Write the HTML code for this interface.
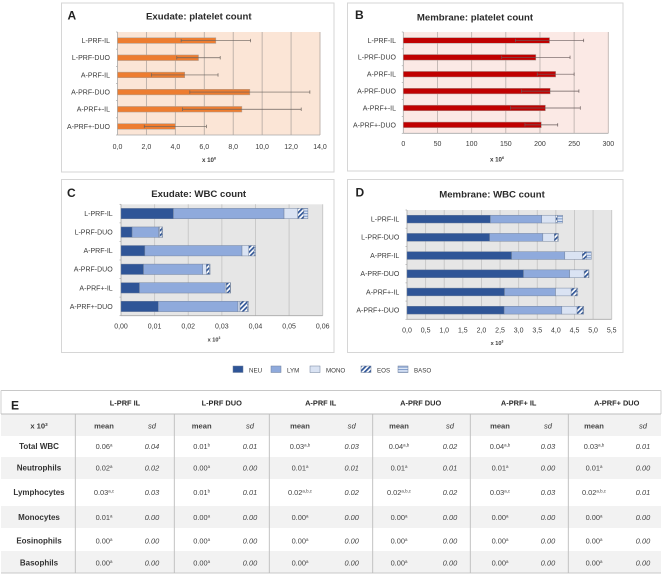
<!DOCTYPE html>
<html lang="en">
<head>
<meta charset="utf-8">
<title>Platelet and WBC counts</title>
<style>
html,body{margin:0;padding:0;background:#fff;}
#figure{display:block;width:669px;height:576px;filter:blur(0.35px);font-family:"Liberation Sans",sans-serif;}
</style>
</head>
<body>
<svg id="figure" xmlns="http://www.w3.org/2000/svg" width="669" height="576" viewBox="0 0 669 576">
<defs>
<pattern id="eos" patternUnits="userSpaceOnUse" width="3.4" height="3.4" patternTransform="rotate(45)"><rect width="3.4" height="3.4" fill="#fff"/><rect width="1.7" height="3.4" fill="#2f5597"/></pattern>
<pattern id="baso" patternUnits="userSpaceOnUse" width="2.6" height="2.6"><rect width="2.6" height="2.6" fill="#dbe5f5"/><rect width="2.6" height="0.9" fill="#6f8fc4"/></pattern>
</defs>
</svg>
<script>
// Shared categories
var categories = ['L-PRF-IL', 'L-PRF-DUO', 'A-PRF-IL', 'A-PRF-DUO', 'A-PRF+-IL', 'A-PRF+-DUO'];

// Panel A: exudate platelet count
var exudateTicks = ['0,0', '2,0', '4,0', '6,0', '8,0', '10,0', '12,0', '14,0'];
var exudateTickValues = [0, 2, 4, 6, 8, 10, 12, 14];
var exudateMean = [6.8, 5.6, 4.65, 9.15, 8.6, 4.0];
var exudateSd = [2.4, 1.5, 2.3, 4.15, 4.1, 2.15];

// Panel B: membrane platelet count
var membraneTicks = ['0', '50', '100', '150', '200', '250', '300'];
var membraneTickValues = [0, 50, 100, 150, 200, 250, 300];
var membraneMean = [214, 194, 223, 215, 208, 202];
var membraneSd = [50, 50, 27, 42, 51, 24];

// Panel C: exudate WBC count, stacked
var wbcSeries = ['NEU', 'LYM', 'MONO', 'EOS', 'BASO'];
var exuNeu = [0.0156, 0.0033, 0.0071, 0.0067, 0.0055, 0.0111];
var exuLym = [0.0329, 0.0079, 0.0289, 0.0176, 0.0255, 0.0237];
var exuMono = [0.0041, 0.0003, 0.0020, 0.0011, 0.0003, 0.0006];
var exuEos = [0.0018, 0.0007, 0.0016, 0.0009, 0.0012, 0.0022];
var exuBaso = [0.0012, 0.0002, 0.0004, 0.0002, 0.0001, 0.0003];
var exuTicks = ['0,00', '0,01', '0,02', '0,03', '0,04', '0,05', '0,06'];
var exuTickValues = [0, 0.01, 0.02, 0.03, 0.04, 0.05, 0.06];

// Panel D: membrane WBC count, stacked
var memNeu = [2.24, 2.22, 2.81, 3.13, 2.62, 2.61];
var memLym = [1.38, 1.43, 1.43, 1.24, 1.37, 1.55];
var memMono = [0.38, 0.31, 0.47, 0.39, 0.42, 0.41];
var memEos = [0.04, 0.09, 0.12, 0.12, 0.15, 0.16];
var memBaso = [0.14, 0.02, 0.12, 0.01, 0.03, 0.02];
var memTicks = ['0,0', '0,5', '1,0', '1,5', '2,0', '2,5', '3,0', '3,5', '4,0', '4,5', '5,0', '5,5'];
var memTickValues = [0, 0.5, 1, 1.5, 2, 2.5, 3, 3.5, 4, 4.5, 5, 5.5];

// Panel E: table
var tableGroups = ['L-PRF IL', 'L-PRF DUO', 'A-PRF IL', 'A-PRF DUO', 'A-PRF+ IL', 'A-PRF+ DUO'];
var tableRows = ['Total WBC', 'Neutrophils', 'Lymphocytes', 'Monocytes', 'Eosinophils', 'Basophils'];
var tableMeans = [
  ['0.06', '0.01', '0.03', '0.04', '0.04', '0.03'],
  ['0.02', '0.00', '0.01', '0.01', '0.01', '0.01'],
  ['0.03', '0.01', '0.02', '0.02', '0.03', '0.02'],
  ['0.01', '0.00', '0.00', '0.00', '0.00', '0.00'],
  ['0.00', '0.00', '0.00', '0.00', '0.00', '0.00'],
  ['0.00', '0.00', '0.00', '0.00', '0.00', '0.00']
];
var tableSups = [
  ['a', 'b', 'a,b', 'a,b', 'a,b', 'a,b'],
  ['a', 'a', 'a', 'a', 'a', 'a'],
  ['a,c', 'b', 'a,b,c', 'a,b,c', 'a,c', 'a,b,c'],
  ['a', 'a', 'a', 'a', 'a', 'a'],
  ['a', 'a', 'a', 'a', 'a', 'a'],
  ['a', 'a', 'a', 'a', 'a', 'a']
];
var tableSds = [
  ['0.04', '0.01', '0.03', '0.02', '0.03', '0.01'],
  ['0.02', '0.00', '0.01', '0.01', '0.00', '0.00'],
  ['0.03', '0.01', '0.02', '0.02', '0.03', '0.01'],
  ['0.00', '0.00', '0.00', '0.00', '0.00', '0.00'],
  ['0.00', '0.00', '0.00', '0.00', '0.00', '0.00'],
  ['0.00', '0.00', '0.00', '0.00', '0.00', '0.00']
];

var svg = document.getElementById('figure');
var NS = 'http://www.w3.org/2000/svg';

function rect(name, x, y, w, h, fill, stroke, sw) {
  var el = document.createElementNS(NS, 'rect');
  
  
  el.setAttribute('x', x);
  el.setAttribute('y', y);
  el.setAttribute('width', Math.max(w, 0));
  el.setAttribute('height', h);
  el.setAttribute('fill', fill);
  if (stroke) {
    el.setAttribute('stroke', stroke);
    el.setAttribute('stroke-width', sw || 1);
  }
  svg.appendChild(el);
  return el;
}

function line(name, x1, y1, x2, y2, stroke, sw) {
  var el = document.createElementNS(NS, 'line');
  
  
  el.setAttribute('x1', x1);
  el.setAttribute('y1', y1);
  el.setAttribute('x2', x2);
  el.setAttribute('y2', y2);
  el.setAttribute('stroke', stroke);
  el.setAttribute('stroke-width', sw || 1);
  svg.appendChild(el);
  return el;
}

function text(name, str, x, y, size, opts) {
  opts = opts || {};
  var el = document.createElementNS(NS, 'text');
  
  
  el.setAttribute('x', x);
  el.setAttribute('y', y);
  el.setAttribute('font-size', size);
  el.setAttribute('fill', opts.fill || '#3a3a3a');
  el.setAttribute('text-anchor', opts.anchor || 'middle');
  if (opts.bold) { el.setAttribute('font-weight', 'bold'); }
  if (opts.italic) { el.setAttribute('font-style', 'italic'); }
  el.textContent = str;
  if (opts.sup) {
    var sp = document.createElementNS(NS, 'tspan');
    sp.setAttribute('dy', -2.6);
    sp.setAttribute('font-size', size * 0.6);
    sp.textContent = opts.sup;
    el.appendChild(sp);
  }
  svg.appendChild(el);
  return el;
}

function makeScale(d0, d1, r0, r1) {
  return function (v) { return r0 + (v - d0) / (d1 - d0) * (r1 - r0); };
}

function frame(name, x0, y0, x1, y1) {
  rect(name, x0, y0, x1 - x0, y1 - y0, '#ffffff', '#d6d6d6', 1);
}

function axes(p, scale, ticks, tickValues, slug) {
  rect(slug + '-plot-area', p.x0, p.y0, p.x1 - p.x0, p.y1 - p.y0, p.bg);
  tickValues.forEach(function (v, i) {
    var x = scale(v);
    if (i > 0) { line(slug + '-gridline', x, p.y0, x, p.y1, p.grid, 0.9); }
    text(slug + '-x-tick-label', ticks[i], x, p.tickY, 7);
  });
  line(slug + '-y-axis', p.x0, p.y0, p.x0, p.y1, '#a8a8a8', 0.8);
  line(slug + '-x-axis', p.x0, p.y1, p.x1, p.y1, '#a8a8a8', 0.8);
  var step = (p.y1 - p.y0) / categories.length;
  for (var k = 0; k <= categories.length; k++) {
    line(slug + '-y-tick', p.x0 - 1.5, p.y0 + k * step, p.x0, p.y0 + k * step, '#a8a8a8', 0.7);
  }
  categories.forEach(function (c, i) {
    text(slug + '-category-label', c, p.labelX, p.y0 + (i + 0.5) * step + 2.4, 7, { anchor: 'end' });
  });
}

function platelet(p, means, sds, ticks, tickValues, slug) {
  var scale = makeScale(0, tickValues[tickValues.length - 1], p.x0, p.x1);
  axes(p, scale, ticks, tickValues, slug);
  var step = (p.y1 - p.y0) / categories.length;
  means.forEach(function (m, i) {
    var cy = p.y0 + (i + 0.5) * step;
    rect(slug + '-bar', p.x0, cy - p.barH / 2, scale(m) - p.x0, p.barH, p.barColor, '#a9a19b', 0.5);
    var a = scale(m - sds[i]);
    var b = scale(m + sds[i]);
    line(slug + '-error-bar', a, cy, b, cy, p.errColor, 0.7);
    line(slug + '-error-cap-low', a, cy - 1.7, a, cy + 1.7, p.errColor, 0.7);
    line(slug + '-error-cap-high', b, cy - 1.7, b, cy + 1.7, p.errColor, 0.7);
  });
}

var stackFills = ['#2f5597', '#8faadc', '#dae3f3', 'url(#eos)', 'url(#baso)'];

function stacked(p, seriesList, ticks, tickValues, slug) {
  var scale = makeScale(0, tickValues[tickValues.length - 1], p.x0, p.x1);
  axes(p, scale, ticks, tickValues, slug);
  var step = (p.y1 - p.y0) / categories.length;
  categories.forEach(function (c, i) {
    var cy = p.y0 + (i + 0.5) * step;
    var total = 0;
    seriesList.forEach(function (s, k) {
      var a = scale(total);
      total += s[i];
      var b = scale(total);
      rect(slug + '-segment-' + wbcSeries[k].toLowerCase(), a, cy - p.barH / 2, b - a, p.barH, stackFills[k], '#6f7f99', 0.45);
    });
  });
}

// Panel frames
frame('panel-a-frame', 61.5, 3, 334, 172);
frame('panel-b-frame', 347.5, 3, 623, 171);
frame('panel-c-frame', 61.5, 179.5, 334, 352.5);
frame('panel-d-frame', 347.5, 179.5, 623, 352.5);

// Panel A
text('panel-a-letter', 'A', 67.5, 19.5, 12, { bold: true, anchor: 'start', fill: '#222' });
text('panel-a-title', 'Exudate: platelet count', 198.8, 19.5, 9.6, { bold: true, fill: '#2a2a2a' });
platelet({ x0: 117.5, x1: 320, y0: 32, y1: 135, bg: '#fbe5d6', grid: '#b9aea6', tickY: 149, labelX: 110, barH: 5.6, barColor: '#ed7d31', errColor: '#6a625c' },
  exudateMean, exudateSd, exudateTicks, exudateTickValues, 'panel-a');
text('panel-a-x-axis-title', 'x 10', 209, 162, 6.2, { bold: true, sup: '6' });

// Panel B
text('panel-b-letter', 'B', 355, 19, 12, { bold: true, anchor: 'start', fill: '#222' });
text('panel-b-title', 'Membrane: platelet count', 475, 20.5, 9.6, { bold: true, fill: '#2a2a2a' });
platelet({ x0: 403.3, x1: 608.3, y0: 32, y1: 133.3, bg: '#fbe9e5', grid: '#c0b4b0', tickY: 146, labelX: 396, barH: 5.6, barColor: '#c00000', errColor: '#6a5c5c' },
  membraneMean, membraneSd, membraneTicks, membraneTickValues, 'panel-b');
text('panel-b-x-axis-title', 'x 10', 497, 161.5, 6.2, { bold: true, sup: '6' });

// Panel C
text('panel-c-letter', 'C', 67, 197, 12, { bold: true, anchor: 'start', fill: '#222' });
text('panel-c-title', 'Exudate: WBC count', 198.7, 197, 9.6, { bold: true, fill: '#2a2a2a' });
stacked({ x0: 121, x1: 322.7, y0: 204.3, y1: 315.7, bg: '#e6e6e6', grid: '#c6c6c6', tickY: 328.5, labelX: 112.7, barH: 10.4 },
  [exuNeu, exuLym, exuMono, exuEos, exuBaso], exuTicks, exuTickValues, 'panel-c');
text('panel-c-x-axis-title', 'x 10', 214, 341.5, 5.6, { bold: true, sup: '3' });

// Panel D
text('panel-d-letter', 'D', 355.5, 196.5, 12, { bold: true, anchor: 'start', fill: '#222' });
text('panel-d-title', 'Membrane: WBC count', 492, 197.5, 9.6, { bold: true, fill: '#2a2a2a' });
stacked({ x0: 407, x1: 611.7, y0: 210, y1: 319.3, bg: '#e6e6e6', grid: '#c6c6c6', tickY: 332.5, labelX: 399.3, barH: 7.8 },
  [memNeu, memLym, memMono, memEos, memBaso], memTicks, memTickValues, 'panel-d');
text('panel-d-x-axis-title', 'x 10', 497, 345, 5.6, { bold: true, sup: '3' });

// Legend
var legendSwatchX = [233, 271, 310, 361, 398];
wbcSeries.forEach(function (s, i) {
  var x = legendSwatchX[i];
  rect('legend-swatch-' + s.toLowerCase(), x, 366, 10, 6.5, stackFills[i], '#6f7f99', 0.5);
  text('legend-label-' + s.toLowerCase(), s, x + 16, 372.5, 6.2, { anchor: 'start' });
});

// Panel E: table bands
rect('table-frame', 1, 390.5, 660, 182.5, '#ffffff');
var bandTop = [414, 457, 506, 551];
var bandBottom = [436, 479, 528, 573];
bandTop.forEach(function (t, i) {
  rect('table-row-band', 1, t, 660, bandBottom[i] - t, '#f2f2f2');
});
line('table-top-border', 1, 390.5, 661, 390.5, '#c8c8c8', 1);
line('table-left-border', 1, 390.5, 1, 414, '#d0d0d0', 1);
line('table-right-border', 661, 390.5, 661, 414, '#d0d0d0', 1);
line('table-header-rule', 1, 414, 661, 414, '#bdbdbd', 1);
line('table-bottom-border', 1, 573, 661, 573, '#c8c8c8', 1);

var dividerX = [75.3, 174.3, 269.3, 372.7, 470.3, 568.3];
dividerX.forEach(function (x) {
  line('table-column-divider', x, 414, x, 573, '#bcbcbc', 0.9);
});

text('panel-e-letter', 'E', 11, 409.5, 12, { bold: true, anchor: 'start', fill: '#222' });
text('table-unit-label', 'x 10', 39, 428.5, 7.6, { bold: true, sup: '3' });

var groupX = [125, 221.7, 320.7, 420.7, 518.7, 616.7];
var meanX = [104, 201.7, 300, 399, 500, 594];
var sdX = [152, 250, 351.7, 450, 548, 643];
var rowY = [449, 470.5, 495, 520, 543.5, 565.5];

tableGroups.forEach(function (g, i) {
  text('table-group-header', g, groupX[i], 405.5, 7.4, { bold: true, fill: '#2a2a2a' });
  text('table-mean-header', 'mean', meanX[i], 428.5, 7.6, { bold: true, fill: '#444' });
  text('table-sd-header', 'sd', sdX[i], 428.5, 7.6, { italic: true, fill: '#333' });
});

tableRows.forEach(function (r, i) {
  text('table-row-label', r, 39, rowY[i], 8, { bold: true, fill: '#333' });
  tableMeans[i].forEach(function (m, j) {
    text('table-mean-value', m, meanX[j], rowY[i], 7.4, { sup: tableSups[i][j], fill: '#444' });
    text('table-sd-value', tableSds[i][j], sdX[j], rowY[i], 7.4, { italic: true, fill: '#444' });
  });
});
</script>
</body>
</html>
